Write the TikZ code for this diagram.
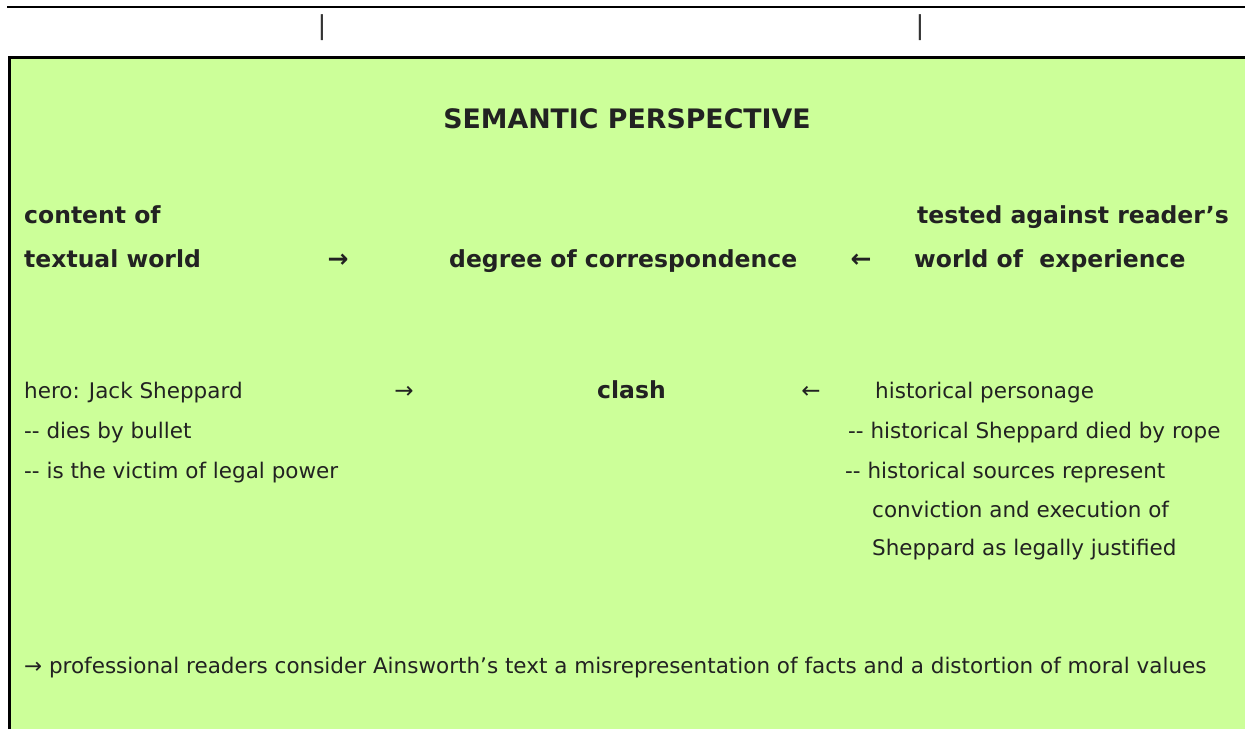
\documentclass[tikz,border=0pt]{standalone}
\usepackage{fontspec}
\setmainfont{DejaVu Sans}
\definecolor{boxgreen}{HTML}{CCFF99}
\definecolor{txt}{HTML}{222222}
\definecolor{bar}{HTML}{333333}
\begin{document}
\begin{tikzpicture}[x=1pt,y=-1pt,
  reg/.style={anchor=base west, inner sep=0pt, text=txt, font=\fontsize{21.5}{26}\selectfont},
  bld/.style={anchor=base west, inner sep=0pt, text=txt, font=\fontsize{23.5}{28}\selectfont\bfseries},
  arr/.style={anchor=base, inner sep=0pt, text=txt, font=\fontsize{23}{26}\selectfont},
  barr/.style={anchor=base, inner sep=0pt, text=txt, font=\fontsize{25}{28}\selectfont\bfseries},
  head/.style={anchor=base, inner sep=0pt, text=txt, font=\fontsize{26.8}{32}\selectfont\bfseries},
  barmark/.style={anchor=base, inner sep=0pt, text=bar, font=\fontsize{26}{30}\selectfont},
  rule/.style={line width=2.6pt, black}]
\useasboundingbox (0,0) rectangle (1245,729);
% top rule and bars
\draw[rule] (7.3,7) -- (1245,7);
\node[barmark] (bar1) at (322,34.5) {|};
\node[barmark] (bar2) at (920,34.5) {|};
% green box
\fill[boxgreen] (9.3,57.3) rectangle (1245,729);
\draw[rule] (9.3,729) -- (9.3,57.3) -- (1245,57.3);
% heading
\node[head] (title) at (627,128) {SEMANTIC PERSPECTIVE};
% bold rows
\node[bld] (content) at (24,223) {content of};
\node[bld] (textual) at (24,267) {textual world};
\node[barr] (a1) at (338,267) {→};
\node[bld] (degree) at (449,267) {degree of correspondence};
\node[barr] (a2) at (861,267) {←};
\node[bld] (tested) at (917,223) {tested against reader’s};
\node[bld] (world) at (914,267) {world of\ \ experience};
% regular rows
\node[reg] (hero) at (24,398) {hero: Jack Sheppard};
\node[arr] (a3) at (404,398) {→};
\node[bld] (clash) at (597,398) {clash};
\node[arr] (a4) at (811,398) {←};
\node[reg] (hist) at (875,398) {historical personage};
\node[reg] (dies) at (24,438.5) {-{}- dies by bullet};
\node[reg] (rope) at (848,438.5) {-{}- historical Sheppard died by rope};
\node[reg] (victim) at (24,478) {-{}- is the victim of legal power};
\node[reg] (sources) at (845,478) {-{}- historical sources represent};
\node[reg] (conv) at (872,517) {conviction and execution of};
\node[reg] (just) at (872,555) {Sheppard as legally justified};
% conclusion
\node[reg] (concl) at (24,673) {→ professional readers consider Ainsworth’s text a misrepresentation of facts and a distortion of moral values};
\end{tikzpicture}
\end{document}
